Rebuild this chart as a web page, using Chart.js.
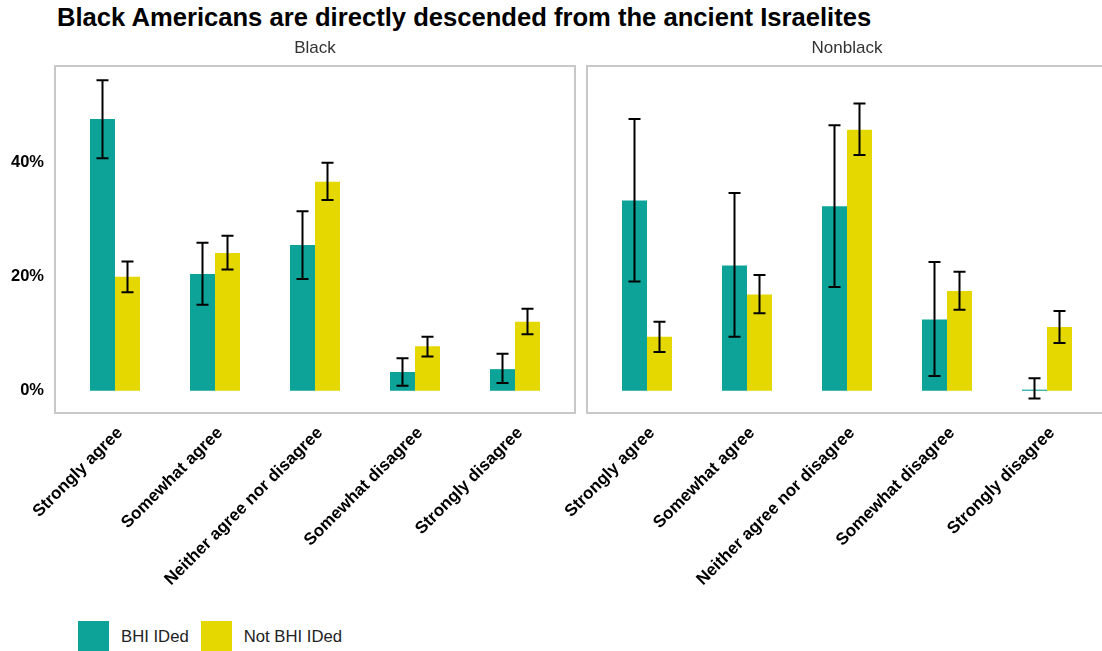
<!DOCTYPE html>
<html>
<head>
<meta charset="utf-8">
<script src="https://cdn.jsdelivr.net/npm/chart.js@4/dist/chart.umd.min.js"></script>
<style>
html,body{margin:0;padding:0;background:#fff;overflow:hidden;width:1102px;height:651px;font-family:"Liberation Sans",Arial,sans-serif;}
#title{position:absolute;left:57px;top:3px;font-size:25.6px;font-weight:bold;color:#000;white-space:nowrap;}
.panel{position:absolute;top:0;height:600px;}
#p1{left:0;width:580px;}
#p2{left:480px;width:640px;}
#legend{position:absolute;left:78px;top:621px;display:flex;align-items:center;font-size:16.7px;color:#222;}
#legend span.sw{display:inline-block;width:31px;height:31px;margin-right:12px;}
#legend span.lb{margin-right:12px;}
</style>
</head>
<body>
<div id="title">Black Americans are directly descended from the ancient Israelites</div>
<div class="panel" id="p1"><canvas id="c1"></canvas></div>
<div class="panel" id="p2"><canvas id="c2"></canvas></div>
<div id="legend"></div>
<script>
const categories=['Strongly agree','Somewhat agree','Neither agree nor disagree','Somewhat disagree','Strongly disagree'];
const panels=['Black','Nonblack'];
const seriesNames=['BHI IDed','Not BHI IDed'];
const seriesColors=['#0da399','#e5d800'];
const yTicks=[0,20,40];

// Black respondents
const blackBhi=[47.7,20.5,25.6,3.3,3.8];
const blackBhiLo=[40.8,15.1,19.6,0.9,1.35];
const blackBhiHi=[54.5,26.0,31.5,5.7,6.5];
const blackNot=[20.0,24.2,36.7,7.8,12.1];
const blackNotLo=[17.3,21.3,33.5,6.0,9.9];
const blackNotHi=[22.7,27.2,40.0,9.5,14.4];
// Nonblack respondents
const nonBhi=[33.4,22.0,32.4,12.5,0.2];
const nonBhiLo=[19.2,9.5,18.2,2.6,-1.35];
const nonBhiHi=[47.7,34.7,46.6,22.6,2.2];
const nonNot=[9.5,16.9,45.8,17.5,11.2];
const nonNotLo=[6.8,13.6,41.4,14.2,8.4];
const nonNotHi=[12.1,20.3,50.4,20.9,14.0];

const FONT='"Liberation Sans", Arial, sans-serif';

const errPlugin={id:'err',afterDatasetsDraw(chart){
  const ctx=chart.ctx,ys=chart.scales.y;
  ctx.save();ctx.strokeStyle='#000';ctx.lineWidth=2;
  chart.data.datasets.forEach((ds,i)=>{
    chart.getDatasetMeta(i).data.forEach((bar,j)=>{
      const t=ys.getPixelForValue(ds.hi[j]),b=ys.getPixelForValue(ds.lo[j]),x=bar.x;
      ctx.beginPath();
      ctx.moveTo(x,t);ctx.lineTo(x,b);
      ctx.moveTo(x-6,t);ctx.lineTo(x+6,t);
      ctx.moveTo(x-6,b);ctx.lineTo(x+6,b);
      ctx.stroke();
    });
  });
  ctx.restore();
}};
// panel border (ggplot-style 0.6 category expansion) + strip label
const framePlugin={id:'frame',afterDraw(chart,args,opts){
  const a=chart.chartArea,ctx=chart.ctx,ex=10;
  ctx.save();ctx.strokeStyle='#c8c8c8';ctx.lineWidth=2;
  ctx.strokeRect(a.left-ex,a.top,a.right-a.left+2*ex,a.bottom-a.top);
  ctx.fillStyle='#333';ctx.font='17px '+FONT;
  ctx.textAlign='center';ctx.textBaseline='middle';
  ctx.fillText(opts.label,(a.left+a.right)/2,48);
  ctx.restore();
}};

function makeChart(id,label,bhi,bhiLo,bhiHi,not,notLo,notHi,showY,padL,padR){
  return new Chart(document.getElementById(id),{
    type:'bar',
    data:{labels:categories,datasets:[
      {label:seriesNames[0],data:bhi,lo:bhiLo,hi:bhiHi,backgroundColor:seriesColors[0]},
      {label:seriesNames[1],data:not,lo:notLo,hi:notHi,backgroundColor:seriesColors[1]}
    ]},
    options:{
      responsive:true,maintainAspectRatio:false,animation:false,
      categoryPercentage:0.5,barPercentage:1,
      layout:{padding:{top:66,left:padL,right:padR,bottom:0}},
      plugins:{legend:{display:false},tooltip:{enabled:false},frame:{label}},
      scales:{
        x:{grid:{display:false},border:{display:false},
          ticks:{autoSkip:false,minRotation:45,maxRotation:45,padding:2,labelOffset:5,color:'#000',
            font:{family:FONT,size:17,weight:'bold'}},
          afterFit(s){s.height=187;s.paddingLeft=0;s.paddingRight=0;}},
        y:{display:showY,min:-3.9,max:57,grid:{display:false},border:{display:false},
          afterBuildTicks(s){s.ticks=yTicks.map(v=>({value:v}));},
          ticks:{padding:13,color:'#000',callback:v=>v+'%',
            font:{family:FONT,size:16.5,weight:'bold'}},
          afterFit(s){if(showY)s.width=65;s.paddingTop=0;s.paddingBottom=0;}}
      }
    },
    plugins:[errPlugin,framePlugin]
  });
}
makeChart('c1',panels[0],blackBhi,blackBhiLo,blackBhiHi,blackNot,blackNotLo,blackNotHi,true,0,15);
makeChart('c2',panels[1],nonBhi,nonBhiLo,nonBhiHi,nonNot,nonNotLo,nonNotHi,false,117,23);

document.getElementById('legend').innerHTML=seriesNames.map((n,i)=>
  `<span class="sw" style="background:${seriesColors[i]}"></span><span class="lb">${n}</span>`).join('');
</script>
</body>
</html>
